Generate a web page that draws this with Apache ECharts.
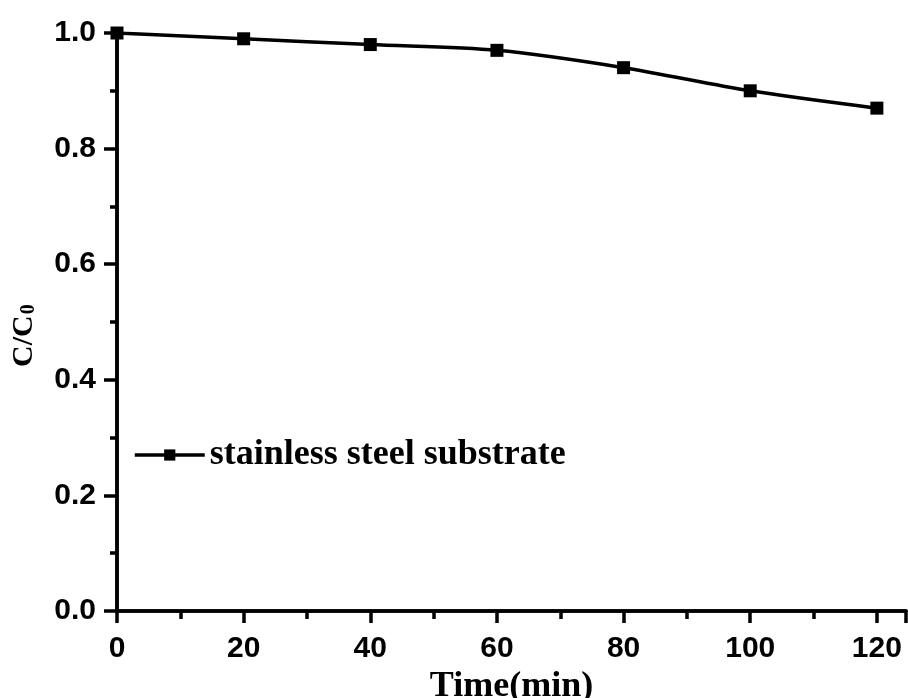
<!DOCTYPE html>
<html>
<head>
<meta charset="utf-8">
<script src="https://cdn.jsdelivr.net/npm/echarts@6/dist/echarts.min.js"></script>
<style>
  html, body { margin: 0; padding: 0; background: #fff; }
  #main { width: 908px; height: 698px; }
</style>
</head>
<body>
<div id="main"></div>
<script>
// data
const times = [0, 20, 40, 60, 80, 100, 120];
const ratio = [1.0, 0.99, 0.98, 0.97, 0.94, 0.90, 0.87];
const seriesName = 'stainless steel substrate';
const xTitle = 'Time(min)';

const sans = '"Liberation Sans", Arial, sans-serif';
const serif = '"Liberation Serif", "Times New Roman", serif';

const chart = echarts.init(document.getElementById('main'));

const axisLine = { show: true, lineStyle: { color: '#000', width: 3.5 } };

const option = {
    animation: false,
    backgroundColor: '#fff',
    grid: { left: 117, right: 2, top: 33, bottom: 87, outerBoundsMode: 'none' },
    legend: {
        left: 128,
        top: 432,
        itemWidth: 70,
        itemHeight: 14,
        itemGap: 0,
        data: [seriesName],
        lineStyle: { width: 3.5 },
        textStyle: { fontFamily: serif, fontWeight: 'bold', fontSize: 36, color: '#000' }
    },
    xAxis: [
        {
            type: 'value',
            min: 0,
            max: 124.6,
            interval: 20,
            axisLine: axisLine,
            axisTick: { show: true, length: 12, lineStyle: { color: '#000', width: 3.5 } },
            minorTick: { show: true, splitNumber: 2, length: 8, lineStyle: { color: '#000', width: 3.5 } },
            splitLine: { show: false },
            axisLabel: {
                margin: 23,
                showMaxLabel: false,
                fontFamily: sans, fontWeight: 'bold', fontSize: 30, color: '#000'
            },
            name: xTitle,
            nameLocation: 'middle',
            nameGap: 49,
            nameTextStyle: { fontFamily: serif, fontWeight: 'bold', fontSize: 36, color: '#000' }
        },
        {
            type: 'value', position: 'top', min: 0, max: 124.6,
            axisLine: axisLine, axisTick: { show: false }, axisLabel: { show: false }, splitLine: { show: false }
        }
    ],
    yAxis: [
        {
            type: 'value',
            min: 0,
            max: 1,
            interval: 0.2,
            axisLine: axisLine,
            axisTick: { show: true, length: 13, lineStyle: { color: '#000', width: 3.5 } },
            minorTick: { show: true, splitNumber: 2, length: 7, lineStyle: { color: '#000', width: 3.5 } },
            splitLine: { show: false },
            axisLabel: {
                margin: 21,
                formatter: v => v.toFixed(1),
                fontFamily: sans, fontWeight: 'bold', fontSize: 30, color: '#000'
            }
        },
        {
            type: 'value', position: 'right', min: 0, max: 1,
            axisLine: axisLine, axisTick: { show: false }, axisLabel: { show: false }, splitLine: { show: false }
        }
    ],
    graphic: [
        {
            type: 'text',
            x: 9,
            y: 367,
            rotation: Math.PI / 2,
            style: {
                text: '{a|C/C}{b|0}',
                rich: {
                    a: { fontFamily: serif, fontWeight: 'bold', fontSize: 30, fill: '#000' },
                    b: { fontFamily: serif, fontWeight: 'bold', fontSize: 20, fill: '#000', padding: [10, 0, 0, 1] }
                }
            }
        }
    ],
    series: [
        {
            name: seriesName,
            type: 'line',
            data: times.map((t, i) => [t, ratio[i]]),
            smooth: 0.3,
            symbol: 'rect',
            symbolSize: 13,
            lineStyle: { color: '#000', width: 3.5 },
            itemStyle: { color: '#000' }
        }
    ]
};

chart.setOption(option);
</script>
</body>
</html>
